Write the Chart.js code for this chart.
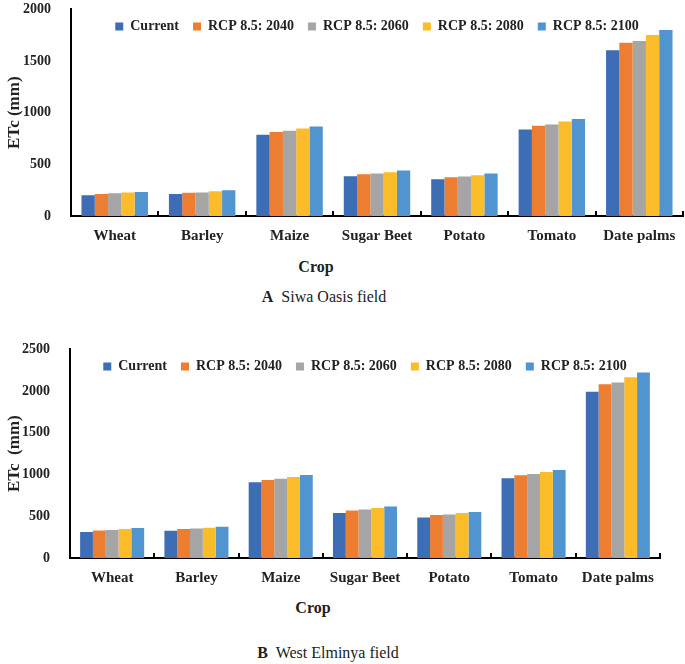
<!DOCTYPE html>
<html>
<head>
<meta charset="utf-8">
<script src="https://cdn.jsdelivr.net/npm/chart.js"></script>
<style>
  body { margin: 0; background: #fff; width: 685px; height: 664px; position: relative; overflow: hidden; font-family: "Liberation Serif", serif; }
  .box { position: absolute; left: 0; width: 685px; }
  .lbl { position: absolute; color: #222; white-space: nowrap; transform: translate(-50%, -50%); }
  .axt { font-weight: bold; font-size: 16px; }
  .cap { font-size: 16px; }
</style>
</head>
<body>
<div class="box" style="top:-11px; height:259px"><canvas id="chartA"></canvas></div>
<div class="box" style="top:329px; height:261px"><canvas id="chartB"></canvas></div>
<div class="lbl axt" style="left:316px; top:267px">Crop</div>
<div class="lbl cap" style="left:324px; top:297px"><b>A</b>&nbsp; Siwa Oasis field</div>
<div class="lbl axt" style="left:313px; top:608px">Crop</div>
<div class="lbl cap" style="left:328px; top:653px"><b>B</b>&nbsp; West Elminya field</div>
<script>
const crops = ["Wheat", "Barley", "Maize", "Sugar Beet", "Potato", "Tomato", "Date palms"];
const seriesNames = ["Current", "RCP 8.5: 2040", "RCP 8.5: 2060", "RCP 8.5: 2080", "RCP 8.5: 2100"];
const seriesColors = ["#3D6DB5", "#ED7D31", "#A5A5A5", "#FBBC2A", "#5094D0"];

// Siwa Oasis field, ETc (mm)
const siwaCurrent = [202, 214, 786, 385, 356, 838, 1604];
const siwa2040    = [214, 226, 812, 404, 376, 873, 1676];
const siwa2060    = [220, 228, 825, 411, 382, 886, 1695];
const siwa2080    = [227, 240, 847, 424, 395, 915, 1753];
const siwa2100    = [233, 249, 867, 440, 411, 940, 1801];

// West Elminya field, ETc (mm)
const elminyaCurrent = [311, 326, 908, 540, 485, 955, 1992];
const elminya2040    = [330, 347, 935, 570, 515, 993, 2082];
const elminya2060    = [337, 355, 951, 582, 522, 1006, 2104];
const elminya2080    = [348, 364, 972, 600, 540, 1030, 2166];
const elminya2100    = [360, 376, 995, 618, 552, 1055, 2224];

const siwaTicks = [0, 500, 1000, 1500, 2000];
const elminyaTicks = [0, 500, 1000, 1500, 2000, 2500];

// small marks between categories, pointing up from the x axis
const catTicks = {
    id: "catTicks",
    afterDraw(chart) {
        const x = chart.scales.x, ctx = chart.ctx;
        const bottom = chart.chartArea.bottom;
        const step = x.getPixelForValue(1) - x.getPixelForValue(0);
        ctx.save();
        ctx.strokeStyle = "#000";
        ctx.lineWidth = 2;
        for (let i = 0; i < crops.length; i++) {
            const px = Math.round(x.getPixelForValue(i) + step / 2);
            ctx.beginPath();
            ctx.moveTo(px, bottom);
            ctx.lineTo(px, bottom - 5);
            ctx.stroke();
        }
        ctx.restore();
    }
};

// let the legend sit inside the plot, like Excel does: it takes no layout height
const legendInside = {
    id: "legendInside",
    beforeLayout(chart) {
        const lg = chart.legend;
        if (lg && !lg._patched) {
            const fit = lg.fit;
            lg.fit = function () {
                fit.call(this);
                this._realHeight = this.height;
                this.height = 0;
            };
            lg._patched = true;
        }
    },
    afterLayout(chart) {
        const lg = chart.legend;
        if (lg && lg._realHeight) {
            lg.top -= 4;
            lg.height = lg._realHeight;
            lg.bottom = lg.top + lg._realHeight;
        }
    }
};

function makeChart(id, values, ticks, yTitle, yWidth, rightPad) {
    new Chart(document.getElementById(id), {
        type: "bar",
        data: {
            labels: crops,
            datasets: seriesNames.map((name, i) => ({
                label: name,
                data: values[i],
                backgroundColor: seriesColors[i],
                borderWidth: 0,
                categoryPercentage: 0.76,
                barPercentage: 1.0
            }))
        },
        options: {
            responsive: true,
            maintainAspectRatio: false,
            animation: false,
            layout: { padding: { left: 0, right: rightPad, top: 0, bottom: 0 } },
            plugins: {
                tooltip: { enabled: false },
                legend: {
                    position: "top",
                    fullSize: false,
                    labels: {
                        color: "#222",
                        font: { family: "Liberation Serif", weight: "bold", size: 14 },
                        boxWidth: 8,
                        boxHeight: 8,
                        padding: 14
                    }
                }
            },
            scales: {
                x: {
                    grid: { display: false },
                    border: { color: "#000", width: 2 },
                    ticks: {
                        color: "#222",
                        padding: 3,
                        maxRotation: 0,
                        autoSkip: false,
                        font: { family: "Liberation Serif", weight: "bold", size: 15 }
                    }
                },
                y: {
                    min: 0,
                    max: ticks[ticks.length - 1],
                    afterBuildTicks: s => { s.ticks = ticks.map(v => ({ value: v })); },
                    afterFit: s => { s.width = yWidth; },
                    grid: { display: false },
                    border: { color: "#000", width: 2 },
                    ticks: {
                        color: "#222",
                        padding: 12,
                        callback: v => String(v),
                        font: { family: "Liberation Serif", weight: "bold", size: 14 }
                    },
                    title: {
                        display: true,
                        text: yTitle,
                        color: "#222",
                        padding: { top: 4, bottom: 0 },
                        font: { family: "Liberation Serif", weight: "bold", size: 17 }
                    }
                }
            }
        },
        plugins: [legendInside, catTicks]
    });
}

makeChart("chartA", [siwaCurrent, siwa2040, siwa2060, siwa2080, siwa2100], siwaTicks, "ETc (mm)", 71, 2);
makeChart("chartB", [elminyaCurrent, elminya2040, elminya2060, elminya2080, elminya2100], elminyaTicks, "ETc  (mm)", 70, 25);
</script>
</body>
</html>
